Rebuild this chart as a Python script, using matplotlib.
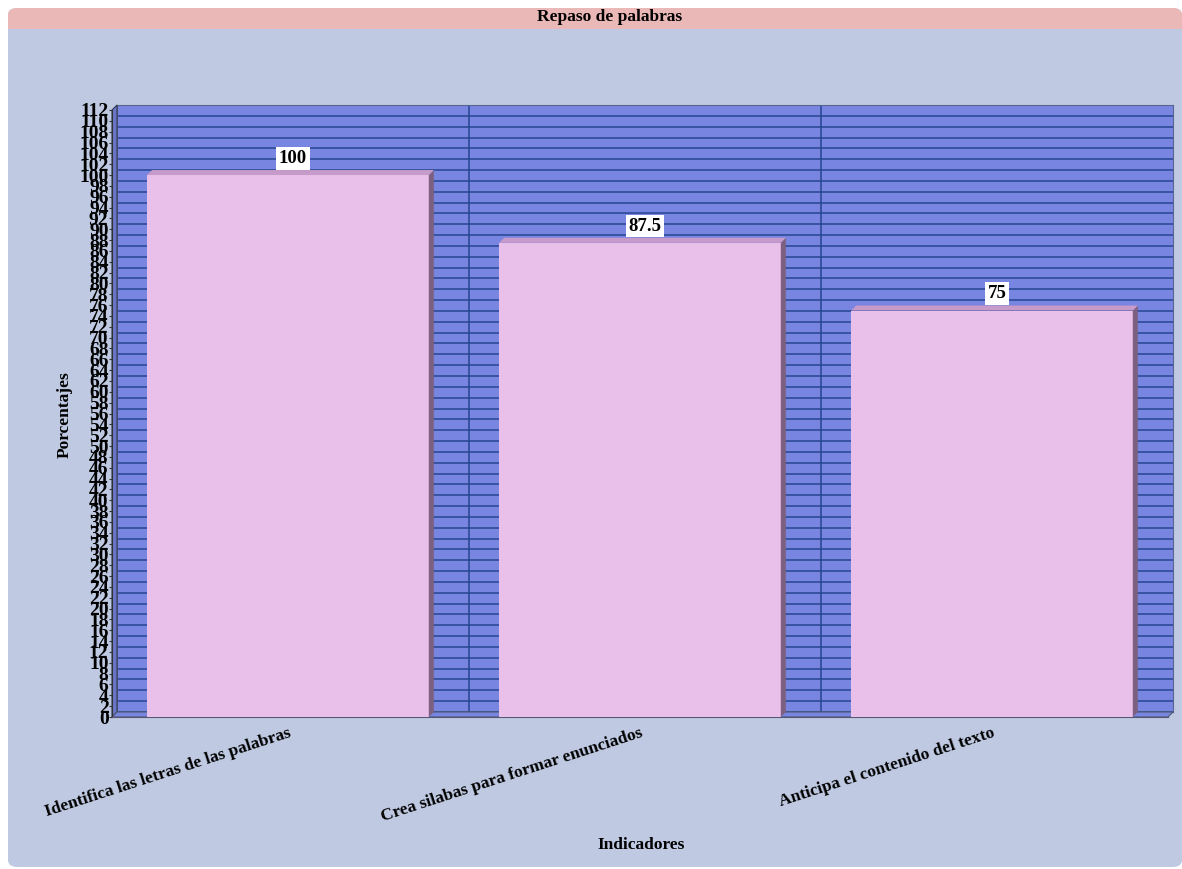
import numpy as np
import matplotlib.pyplot as plt
from matplotlib.patches import FancyBboxPatch, Rectangle, Polygon

categorias = ["Identifica las letras de las palabras",
              "Crea silabas para formar enunciados",
              "Anticipa el contenido del texto"]
porcentajes = [100, 87.5, 75]
etiquetas = ["100", "87.5", "75"]
y_ticks = list(range(0, 113, 2))

W, H = 1182, 869
plt.rcParams['font.family'] = ['Liberation Serif', 'DejaVu Serif']
fig = plt.figure(figsize=(W / 100, H / 100), dpi=100)
fig.patch.set_facecolor("white")

# fondo del panel y barra de titulo
fig.patches.append(FancyBboxPatch((8 / W, 2 / H), 1174 / W, 859 / H,
                                  boxstyle="round,pad=0,rounding_size=0.008",
                                  transform=fig.transFigure, fc="#BFCAE2", ec="none", zorder=-3))
fig.patches.append(FancyBboxPatch((8 / W, (869 - 29) / H), 1174 / W, 21 / H,
                                  boxstyle="round,pad=0,rounding_size=0.008",
                                  transform=fig.transFigure, fc="#EBB8B8", ec="none", zorder=-2))
fig.patches.append(Rectangle((8 / W, (869 - 29) / H), 1174 / W, 8 / H,
                             transform=fig.transFigure, fc="#EBB8B8", ec="none", zorder=-2))
fig.text(610 / W, 1 - 17 / H, "Repaso de palabras", ha="center", va="center",
         fontsize=12.5, fontweight="bold")

d = 5  # profundidad en pixeles
x0, x1, yt, yb = 112, 1168, 110, 717

# pared del fondo
back = fig.add_axes([(x0 + d) / W, 1 - (yb - d) / H, (x1 - x0) / W, (yb - yt) / H])
back.set_zorder(0)
back.set_facecolor("#7886E2")
back.set_xlim(-0.5, 2.5)
back.set_ylim(0, 112)
back.set_yticks(y_ticks)
back.set_xticks([0.5, 1.5])
back.grid(True, color="#27468F", lw=1.1)
back.tick_params(left=False, bottom=False, labelleft=False, labelbottom=False)
for s in back.spines.values():
    s.set_color("#5A6490")

# paredes laterales (izquierda y piso)
fig.patches.append(Polygon([(x0 / W, 1 - yb / H), ((x0 + d) / W, 1 - (yb - d) / H),
                            ((x0 + d) / W, 1 - (yt - d) / H), (x0 / W, 1 - yt / H)],
                           transform=fig.transFigure, fc="#6A76C8", ec="#303850", lw=0.8, zorder=1))
fig.patches.append(Polygon([(x0 / W, 1 - yb / H), ((x0 + d) / W, 1 - (yb - d) / H),
                            ((x1 + d) / W, 1 - (yb - d) / H), (x1 / W, 1 - yb / H)],
                           transform=fig.transFigure, fc="#7886E2", ec="#505870", lw=0.8, zorder=1))

ax = fig.add_axes([x0 / W, 1 - yb / H, (x1 - x0) / W, (yb - yt) / H])
ax.set_zorder(2)
ax.patch.set_alpha(0)
ax.set_xlim(-0.5, 2.5)
ax.set_ylim(0, 112)

x = np.arange(len(categorias))
ancho = 0.8
ddx = d / ((x1 - x0) / 3)
ddy = d / ((yb - yt) / 112)
ax.bar(x, porcentajes, width=ancho, color="#E8C0EA", edgecolor="none", zorder=3)
for xi, v, lab in zip(x, porcentajes, etiquetas):
    l, r = xi - ancho / 2, xi + ancho / 2
    ax.add_patch(Polygon([(r, 0), (r + ddx, ddy), (r + ddx, v + ddy), (r, v)],
                         fc="#7D607F", ec="none", zorder=3))
    ax.add_patch(Polygon([(l, v), (l + ddx, v + ddy), (r + ddx, v + ddy), (r, v)],
                         fc="#C79BC9", ec="none", zorder=3))
    ax.text(xi + ddx, v + ddy + 0.6, lab, ha="center", va="bottom", fontsize=13.5,
            fontweight="bold", bbox=dict(fc="white", ec="none", pad=2), zorder=4)

ax.set_yticks(y_ticks)
ax.set_yticklabels([str(t) for t in y_ticks], fontsize=14, fontweight="bold")
ax.set_xticks(x)
ax.set_xticklabels(categorias, rotation=18, ha="right", rotation_mode="anchor",
                   fontsize=12.5, fontweight="bold")
ax.tick_params(axis="x", length=0, pad=6)
ax.tick_params(axis="y", length=2, pad=0.5, color="#333333")
for s in ["top", "right"]:
    ax.spines[s].set_visible(False)
ax.spines["left"].set_color("#333333")
ax.spines["bottom"].set_color("#555577")

fig.text(65 / W, 1 - 415 / H, "Porcentajes", rotation=90, ha="center", va="center",
         fontsize=12.5, fontweight="bold")
fig.text(641 / W, 1 - 845 / H, "Indicadores", ha="center", va="center",
         fontsize=12.5, fontweight="bold")

fig.savefig("out.png", dpi=100)
